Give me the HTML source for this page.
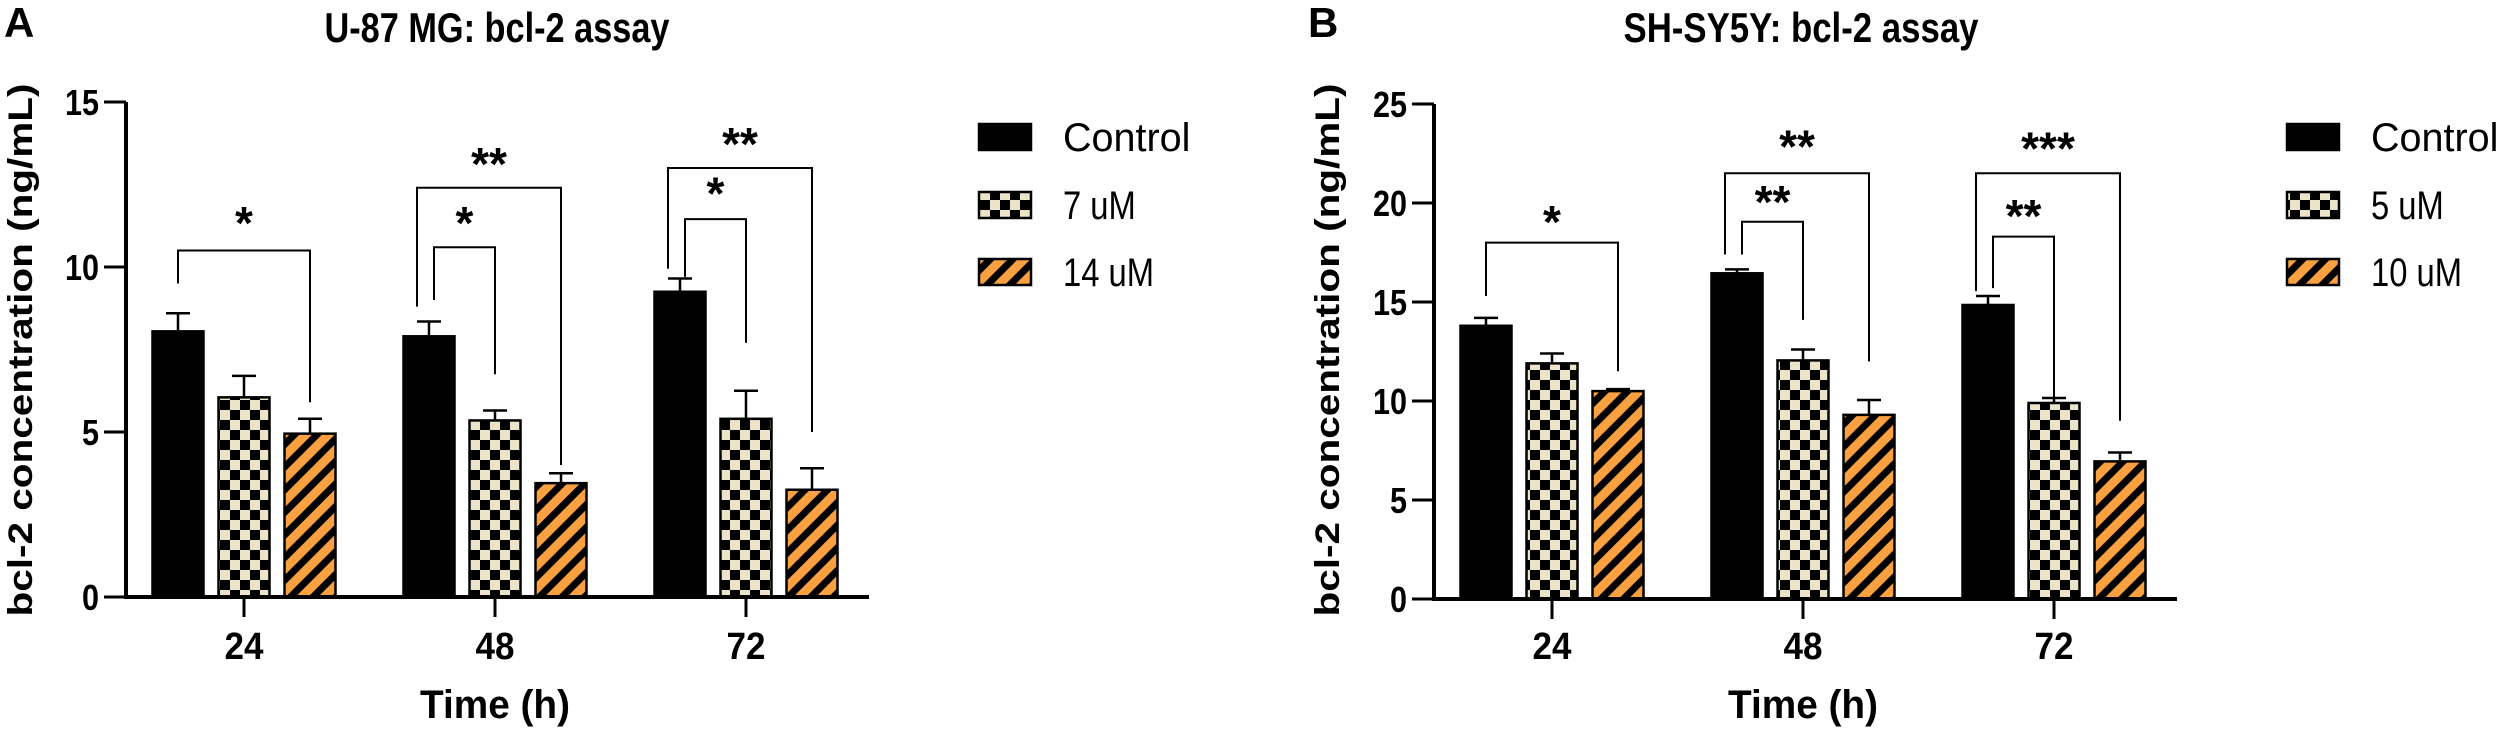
<!DOCTYPE html>
<html><head><meta charset="utf-8"><style>
html,body{margin:0;padding:0;background:#fff;width:2500px;height:732px;overflow:hidden}
svg{display:block}
text{font-family:"Liberation Sans",Arial,sans-serif}
</style></head><body>
<svg id="chart" width="2500" height="732" viewBox="0 0 2500 732" xmlns="http://www.w3.org/2000/svg">
<defs>
<pattern id="checker" patternUnits="userSpaceOnUse" width="20" height="20"><rect width="20" height="20" fill="#ebe4c8"/><rect width="10" height="10" fill="#000"/><rect x="10" y="10" width="10" height="10" fill="#000"/></pattern>
<pattern id="stripe" patternUnits="userSpaceOnUse" width="16" height="16" patternTransform="rotate(45)"><rect width="16" height="16" fill="#f9a040"/><rect width="7" height="16" fill="#000"/></pattern>
</defs>
</svg>
<script>
const categories = ['24','48','72'];
const seriesA = ['Control','7 uM','14 uM'];
const seriesB = ['Control','5 uM','10 uM'];
const valuesA = [[8.05,7.9,9.25],[6.05,5.35,5.4],[4.95,3.45,3.25]];
const errorsA = [[0.55,0.45,0.4],[0.65,0.3,0.85],[0.45,0.3,0.65]];
const valuesB = [[13.8,16.45,14.85],[11.9,12.05,9.9],[10.5,9.3,6.95]];
const errorsB = [[0.4,0.2,0.45],[0.5,0.55,0.25],[0.1,0.75,0.45]];
const ticksA = [0,5,10,15];
const ticksB = [0,5,10,15,20,25];
// brackets: [group, fromSeries, toSeries, topValue, leftLegValue, rightLegValue, stars, starValue]
const bracketsA = [[0,0,2,10.5,9.5,5.9,'*',11.6],[1,0,1,10.6,9.0,6.75,'*',11.6],[1,0,2,12.4,8.8,4.0,'**',13.4],[2,0,1,11.45,9.7,7.7,'*',12.5],[2,0,2,13.0,9.95,5.0,'**',14.0]];
const bracketsB = [[0,0,2,18.0,15.3,11.5,'*',19.5],[1,0,1,19.05,17.4,14.1,'**',20.5],[1,0,2,21.5,17.4,12.0,'**',23.3],[2,0,1,18.3,15.7,10.2,'**',19.8],[2,0,2,21.5,15.55,9.0,'***',23.2]];

const NS='http://www.w3.org/2000/svg';
const svg=document.getElementById('chart');
function mk(tag,attrs,parent,txt){const e=document.createElementNS(NS,tag);for(const k in attrs)e.setAttribute(k,attrs[k]);if(txt!==undefined)e.textContent=txt;(parent||svg).appendChild(e);return e;}
const fills=['#000','url(#checker)','url(#stripe)'];

function panel(o){
  const g=mk('g',{});
  
  
  const y=v=>o.y0-(v/o.ymax)*(o.y0-o.ytop);
  const xc=i=>o.x0+118+i*251;
  const bx=(i,s)=>xc(i)+(s-1)*66;
  let t=mk('text',{x:o.lx,y:37,'font-size':42,'font-weight':'bold'},g,o.letter);
  
  t=mk('text',{x:o.tcx,y:42,'font-size':42,'font-weight':'bold','text-anchor':'middle',textLength:o.tlen,lengthAdjust:'spacingAndGlyphs'},g,o.title);
  
  t=mk('text',{x:0,y:0,'font-size':34,'font-weight':'bold','text-anchor':'middle',textLength:533,lengthAdjust:'spacingAndGlyphs',transform:`translate(${o.ytx},350) rotate(-90)`},g,'bcl-2 concentration (ng/mL)');
  
  t=mk('text',{x:xc(1),y:718,'font-size':40,'font-weight':'bold','text-anchor':'middle',textLength:150,lengthAdjust:'spacingAndGlyphs'},g,'Time (h)');
  
  for(let s=0;s<3;s++)for(let i=0;i<3;i++){
    const v=o.vals[s][i],e=o.errs[s][i],cx=bx(i,s);
    const r=mk('rect',{x:cx-25.5,y:y(v),width:51,height:o.y0-y(v),fill:fills[s],stroke:'#000','stroke-width':2.5},g);
    
    
    const eb=mk('path',{d:`M${cx} ${y(v)}V${y(v+e)}M${cx-12} ${y(v+e)}H${cx+12}`,stroke:'#000','stroke-width':2.5,fill:'none'},g);
    
  }
  const ax=mk('path',{d:`M${o.x0} ${o.ytop}V${o.y0}H${o.x0+743}`,stroke:'#000','stroke-width':4,fill:'none'},g);
  
  o.ticks.forEach(v=>{
    const tk=mk('path',{d:`M${o.x0-22} ${y(v)}H${o.x0}`,stroke:'#000','stroke-width':3},g);
    
    const l=mk('text',{x:o.x0-27,y:y(v)+13,'font-size':36,'font-weight':'bold','text-anchor':'end',textLength:String(v).length*17,lengthAdjust:'spacingAndGlyphs'},g,String(v));
    
  });
  categories.forEach((c,i)=>{
    const tk=mk('path',{d:`M${xc(i)} ${o.y0}V${o.y0+20}`,stroke:'#000','stroke-width':3},g);
    
    const l=mk('text',{x:xc(i),y:659,'font-size':38,'font-weight':'bold','text-anchor':'middle',textLength:39,lengthAdjust:'spacingAndGlyphs'},g,c);
    
  });
  o.brk.forEach(b=>{
    const [gi,s1,s2,top,lv,rv,st,sv]=b;
    const inner=(s2-s1)===1&&gi>0;
    const lx=bx(gi,s1)+(gi===0?0:(inner?5:-12));
    const rx=bx(gi,s2);
    const p=mk('path',{d:`M${lx} ${y(lv)}V${y(top)}H${rx}V${y(rv)}`,stroke:'#000','stroke-width':2,fill:'none'},g);
    
    const sx=gi===0?xc(0):(lx+rx)/2;
    const s=mk('text',{x:sx,y:y(sv)+25,'font-size':46,'font-weight':'bold','text-anchor':'middle'},g,st);
    
  });
  const ly=[124,192,259];
  o.series.forEach((n,s)=>{
    const r=mk('rect',{x:o.legx,y:ly[s],width:52,height:26,fill:fills[s],stroke:'#000','stroke-width':2.5},g);
    
    const l=mk('text',{x:o.legx+84,y:ly[s]+27,'font-size':40,textLength:n.length*18.2,lengthAdjust:'spacingAndGlyphs'},g,n);
    
  });
}
panel({id:'u87',letter:'A',lx:4,title:'U-87 MG: bcl-2 assay',tcx:497,tlen:345,ytx:32,x0:126,y0:597,ytop:102,ymax:15,ticks:ticksA,vals:valuesA,errs:errorsA,series:seriesA,brk:bracketsA,legx:979});
panel({id:'shsy5y',letter:'B',lx:1308,title:'SH-SY5Y: bcl-2 assay',tcx:1801,tlen:355,ytx:1339,x0:1434,y0:599,ytop:104,ymax:25,ticks:ticksB,vals:valuesB,errs:errorsB,series:seriesB,brk:bracketsB,legx:2287});
</script>
</body></html>
